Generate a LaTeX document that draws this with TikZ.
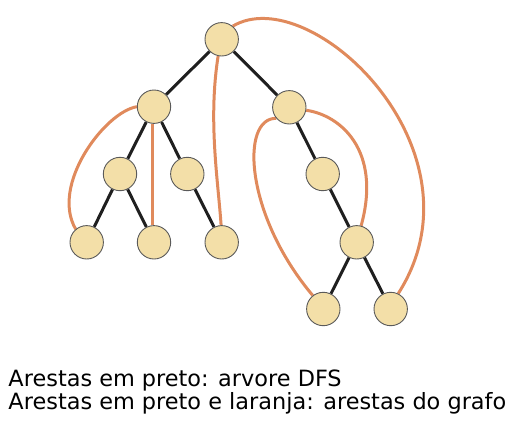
\documentclass[tikz,border=0pt]{standalone}
\usepackage{fontspec}
\setmainfont{DejaVu Sans}
\usetikzlibrary{backgrounds}
\definecolor{nodefill}{HTML}{F3DFA8}
\definecolor{nodeline}{HTML}{5A5A5A}
\definecolor{orangeedge}{HTML}{E08A5C}
\tikzset{
  vert/.style={circle, draw=nodeline, line width=0.9pt, fill=nodefill, minimum size=33.4pt, inner sep=0pt},
  tree/.style={line width=3pt, draw=black!88},
  back/.style={line width=3pt, draw=orangeedge},
  caption/.style={anchor=base west, inner sep=0pt, font=\fontsize{22.4}{24}\selectfont}
}
\begin{document}
\begin{tikzpicture}[x=1pt,y=-1pt]
\useasboundingbox (0,0) rectangle (516,439);
\node[vert] (r) at (221.7,39.3) {};
\node[vert] (a) at (154,106.7) {};
\node[vert] (b) at (289.3,107.3) {};
\node[vert] (c) at (120,174) {};
\node[vert] (d) at (187.3,174) {};
\node[vert] (e) at (322.7,174) {};
\node[vert] (f) at (86.7,242.3) {};
\node[vert] (g) at (154,242.3) {};
\node[vert] (h) at (221.7,242.3) {};
\node[vert] (i) at (356.7,242.3) {};
\node[vert] (j) at (323.3,309) {};
\node[vert] (k) at (390.7,309) {};
\begin{scope}[on background layer]
\draw[tree] (r) -- (a);
\draw[tree] (r) -- (b);
\draw[tree] (a) -- (c);
\draw[tree] (a) -- (d);
\draw[tree] (c) -- (f);
\draw[tree] (c) -- (g);
\draw[tree] (d) -- (h);
\draw[tree] (b) -- (e);
\draw[tree] (e) -- (i);
\draw[tree] (i) -- (j);
\draw[tree] (i) -- (k);
\draw[back] (r.50) .. controls (310,-20) and (490,150) .. (k.64);
\draw[back] (r.258) .. controls (208,120) and (218,180) .. (h.92);
\draw[back] (a.180) .. controls (105,112) and (50,185) .. (f.130);
\draw[back] (a.265) -- (g.95);
\draw[back] (b.350) .. controls (340,115) and (382,150) .. (i.75);
\draw[back] (b.220) .. controls (240,118) and (245,215) .. (j.128);
\end{scope}
\node[caption] (t1) at (8.3,386.7) {Arestas em preto: arvore DFS};
\node[caption] (t2) at (8.3,409.5) {Arestas em preto e laranja: arestas do grafo};
\end{tikzpicture}
\end{document}
